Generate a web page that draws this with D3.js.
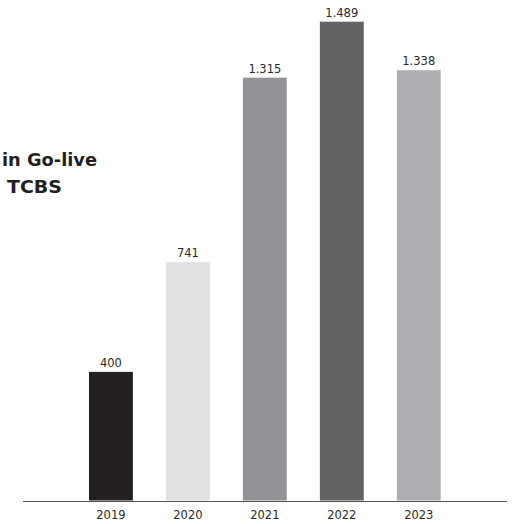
<!DOCTYPE html>
<html>
<head>
<meta charset="utf-8">
<script src="https://cdn.jsdelivr.net/npm/d3@7"></script>
<style>
html,body{margin:0;padding:0;background:#fff;}
svg{display:block;}
</style>
</head>
<body>
<svg id="chart" width="516" height="524"></svg>
<script>
const years = ["2019", "2020", "2021", "2022", "2023"];
const values = [400, 741, 1315, 1489, 1338];
const valueLabels = ["400", "741", "1.315", "1.489", "1.338"];
const barColors = ["#231f20", "#e0e1e3", "#929396", "#636365", "#aeafb2"];
const titleLines = ["in Go-live", "TCBS"];

const svg = d3.select("#chart");
const baseline = 500.5;
const x = d3.scaleBand().domain(years).range([89, 440.7]).paddingInner(0.43).paddingOuter(0);
const y = d3.scaleLinear().domain([0, 1489]).range([baseline, 21.7]);

const numFont = "'DejaVu Sans', sans-serif";

// bars
svg.selectAll("rect.bar").data(years).join("rect")
  .attr("class", "bar")
  .attr("x", d => x(d))
  .attr("width", x.bandwidth())
  .attr("y", (d, i) => y(values[i]))
  .attr("height", (d, i) => baseline - y(values[i]))
  .attr("fill", (d, i) => barColors[i]);

// value labels
svg.selectAll("text.val").data(years).join("text")
  .attr("class", "val")
  .attr("x", d => x(d) + x.bandwidth() / 2)
  .attr("y", (d, i) => y(values[i]) - 5)
  .attr("text-anchor", "middle")
  .attr("font-family", numFont)
  .attr("font-size", 11.5)
  .attr("fill", "#2a2a2a")
  .text((d, i) => valueLabels[i]);

// x axis
const axis = svg.append("g").attr("transform", `translate(0,${baseline})`)
  .call(d3.axisBottom(x).tickSize(0).tickPadding(10));
axis.select(".domain").remove();
axis.selectAll("text")
  .attr("font-family", numFont)
  .attr("font-size", 11.5)
  .attr("fill", "#2a2a2a");
svg.append("line")
  .attr("x1", 23).attr("x2", 507)
  .attr("y1", 501.5).attr("y2", 501.5)
  .attr("stroke", "#555").attr("stroke-width", 1);

// title (clipped at the left edge in reference)
const titleEnds = [97, 62];
const titleWidths = [95, 55];
svg.selectAll("text.title").data(titleLines).join("text")
  .attr("class", "title")
  .attr("x", (d, i) => titleEnds[i] - titleWidths[i])
  .attr("y", (d, i) => 166 + i * 27)
  .attr("font-family", "'DejaVu Sans', sans-serif")
  .attr("font-weight", "bold")
  .attr("font-size", 17.5)
  .attr("fill", "#231f20")
  .attr("textLength", (d, i) => titleWidths[i])
  .attr("lengthAdjust", "spacingAndGlyphs")
  .text(d => d);
</script>
</body>
</html>
